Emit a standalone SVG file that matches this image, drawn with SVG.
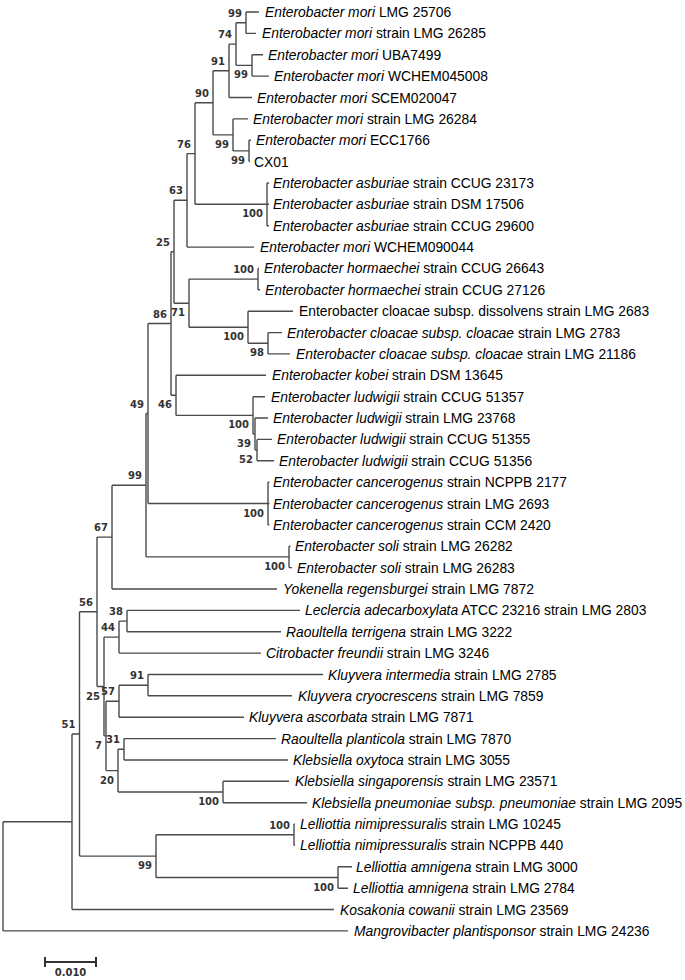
<svg xmlns="http://www.w3.org/2000/svg" width="685" height="980" viewBox="0 0 685 980">
<style>
.br{fill:none;stroke:#4a4a4a;stroke-width:1.4}
.lf{font-family:"Liberation Sans",Arial,sans-serif;font-size:13.85px;fill:#000}
.it{font-style:italic}
.bs{font-family:"DejaVu Sans",Verdana,sans-serif;font-weight:bold;font-size:10px;fill:#333;text-anchor:end}
</style>
<rect width="685" height="980" fill="#fff"/>
<g id="connectors" class="br">
<path d="M246 12V33.4M246 12H259M246 33.4H256"/>
<path d="M252 54.7V76.1M252 54.7H263M252 76.1H269"/>
<path d="M236 22.7V65.4M236 22.7H246M236 65.4H252"/>
<path d="M229 44.1V97.5M229 44.1H236M229 97.5H252"/>
<path d="M249 140.2V161.6M249 140.2H251M249 161.6H250"/>
<path d="M233 118.9V150.9M233 118.9H248M233 150.9H249"/>
<path d="M213 70.8V134.9M213 70.8H229M213 134.9H233"/>
<path d="M267 183V225.7M267 183H269M267 204.3H269M267 225.7H269"/>
<path d="M195 102.8V204.3M195 102.8H213M195 204.3H267"/>
<path d="M187 153.6V247.1M187 153.6H195M187 247.1H254"/>
<path d="M258 268.4V289.8M258 268.4H259M258 289.8H260"/>
<path d="M268 332.6V353.9M268 332.6H282M268 353.9H290"/>
<path d="M248 311.2V343.2M248 311.2H293M248 343.2H268"/>
<path d="M189 279.1V327.2M189 279.1H258M189 327.2H248"/>
<path d="M174 200.3V303.2M174 200.3H187M174 303.2H189"/>
<path d="M257 439.4V460.8M257 439.4H272M257 460.8H274"/>
<path d="M255 418V450.1M255 418H268M255 450.1H257"/>
<path d="M253 396.7V434.1M253 396.7H265M253 434.1H255"/>
<path d="M176 375.3V415.4M176 375.3H266M176 415.4H253"/>
<path d="M171 251.7V395.3M171 251.7H174M171 395.3H176"/>
<path d="M268 482.1V524.9M268 482.1H269.5M268 503.5H269.5M268 524.9H269.5"/>
<path d="M148 323.5V503.5M148 323.5H171M148 503.5H268"/>
<path d="M289 546.3V567.6M289 546.3H290.5M289 567.6H292"/>
<path d="M146 413.5V556.9M146 413.5H148M146 556.9H289"/>
<path d="M112 485.2V589M112 485.2H146M112 589H277"/>
<path d="M127 610.4V631.7M127 610.4H300M127 631.7H281"/>
<path d="M119 621.1V653.1M119 621.1H127M119 653.1H261"/>
<path d="M148 674.5V695.8M148 674.5H323M148 695.8H292"/>
<path d="M119 685.2V717.2M119 685.2H148M119 717.2H244"/>
<path d="M124 738.6V760M124 738.6H276M124 760H288"/>
<path d="M223 781.3V802.7M223 781.3H289M223 802.7H307"/>
<path d="M118 749.3V792M118 749.3H124M118 792H223"/>
<path d="M106 701.2V770.6M106 701.2H119M106 770.6H118"/>
<path d="M104 637.1V735.9M104 637.1H119M104 735.9H106"/>
<path d="M97 537.1V686.5M97 537.1H112M97 686.5H104"/>
<path d="M294 824.1V845.4M294 824.1H295M294 845.4H295"/>
<path d="M338 866.8V888.2M338 866.8H352M338 888.2H348"/>
<path d="M156 834.7V877.5M156 834.7H294M156 877.5H338"/>
<path d="M79.5 611.8V856.1M79.5 611.8H97M79.5 856.1H156"/>
<path d="M72 734V909.5M72 734H79.5M72 909.5H334"/>
<path d="M3 821.8V930.9M3 821.8H72M3 930.9H348"/>
</g>
<g id="leaves" class="lf">
<g id="leaf-1"><text x="265" y="17"><tspan class="it">Enterobacter mori</tspan> LMG 25706</text></g>
<g id="leaf-2"><text x="262" y="38.4"><tspan class="it">Enterobacter mori</tspan> strain LMG 26285</text></g>
<g id="leaf-3"><text x="268" y="59.7"><tspan class="it">Enterobacter mori</tspan> UBA7499</text></g>
<g id="leaf-4"><text x="274" y="81.1"><tspan class="it">Enterobacter mori</tspan> WCHEM045008</text></g>
<g id="leaf-5"><text x="257" y="102.5"><tspan class="it">Enterobacter mori</tspan> SCEM020047</text></g>
<g id="leaf-6"><text x="253" y="123.9"><tspan class="it">Enterobacter mori</tspan> strain LMG 26284</text></g>
<g id="leaf-7"><text x="256" y="145.2"><tspan class="it">Enterobacter mori</tspan> ECC1766</text></g>
<g id="leaf-8"><text x="254" y="166.6">CX01</text></g>
<g id="leaf-9"><text x="273" y="188"><tspan class="it">Enterobacter asburiae</tspan> strain CCUG 23173</text></g>
<g id="leaf-10"><text x="273" y="209.3"><tspan class="it">Enterobacter asburiae</tspan> strain DSM 17506</text></g>
<g id="leaf-11"><text x="273" y="230.7"><tspan class="it">Enterobacter asburiae</tspan> strain CCUG 29600</text></g>
<g id="leaf-12"><text x="260" y="252.1"><tspan class="it">Enterobacter mori</tspan> WCHEM090044</text></g>
<g id="leaf-13"><text x="264" y="273.4"><tspan class="it">Enterobacter hormaechei</tspan> strain CCUG 26643</text></g>
<g id="leaf-14"><text x="265" y="294.8"><tspan class="it">Enterobacter hormaechei</tspan> strain CCUG 27126</text></g>
<g id="leaf-15"><text x="299" y="316.2">Enterobacter cloacae subsp. dissolvens strain LMG 2683</text></g>
<g id="leaf-16"><text x="287" y="337.6"><tspan class="it">Enterobacter cloacae subsp. cloacae</tspan> strain LMG 2783</text></g>
<g id="leaf-17"><text x="296" y="358.9"><tspan class="it">Enterobacter cloacae subsp. cloacae</tspan> strain LMG 21186</text></g>
<g id="leaf-18"><text x="272" y="380.3"><tspan class="it">Enterobacter kobei</tspan> strain DSM 13645</text></g>
<g id="leaf-19"><text x="271" y="401.7"><tspan class="it">Enterobacter ludwigii</tspan> strain CCUG 51357</text></g>
<g id="leaf-20"><text x="273" y="423"><tspan class="it">Enterobacter ludwigii</tspan> strain LMG 23768</text></g>
<g id="leaf-21"><text x="277" y="444.4"><tspan class="it">Enterobacter ludwigii</tspan> strain CCUG 51355</text></g>
<g id="leaf-22"><text x="279" y="465.8"><tspan class="it">Enterobacter ludwigii</tspan> strain CCUG 51356</text></g>
<g id="leaf-23"><text x="273" y="487.1"><tspan class="it">Enterobacter cancerogenus</tspan> strain NCPPB 2177</text></g>
<g id="leaf-24"><text x="273" y="508.5"><tspan class="it">Enterobacter cancerogenus</tspan> strain LMG 2693</text></g>
<g id="leaf-25"><text x="273" y="529.9"><tspan class="it">Enterobacter cancerogenus</tspan> strain CCM 2420</text></g>
<g id="leaf-26"><text x="295" y="551.3"><tspan class="it">Enterobacter soli</tspan> strain LMG 26282</text></g>
<g id="leaf-27"><text x="297" y="572.6"><tspan class="it">Enterobacter soli</tspan> strain LMG 26283</text></g>
<g id="leaf-28"><text x="283" y="594"><tspan class="it">Yokenella regensburgei</tspan> strain LMG 7872</text></g>
<g id="leaf-29"><text x="305" y="615.4"><tspan class="it">Leclercia adecarboxylata</tspan> ATCC 23216 strain LMG 2803</text></g>
<g id="leaf-30"><text x="286" y="636.7"><tspan class="it">Raoultella terrigena</tspan> strain LMG 3222</text></g>
<g id="leaf-31"><text x="266" y="658.1"><tspan class="it">Citrobacter freundii</tspan> strain LMG 3246</text></g>
<g id="leaf-32"><text x="328" y="679.5"><tspan class="it">Kluyvera intermedia</tspan> strain LMG 2785</text></g>
<g id="leaf-33"><text x="298" y="700.8"><tspan class="it">Kluyvera cryocrescens</tspan> strain LMG 7859</text></g>
<g id="leaf-34"><text x="249" y="722.2"><tspan class="it">Kluyvera ascorbata</tspan> strain LMG 7871</text></g>
<g id="leaf-35"><text x="281" y="743.6"><tspan class="it">Raoultella planticola</tspan> strain LMG 7870</text></g>
<g id="leaf-36"><text x="293" y="765"><tspan class="it">Klebsiella oxytoca</tspan> strain LMG 3055</text></g>
<g id="leaf-37"><text x="295" y="786.3"><tspan class="it">Klebsiella singaporensis</tspan> strain LMG 23571</text></g>
<g id="leaf-38"><text x="312" y="807.7"><tspan class="it">Klebsiella pneumoniae subsp. pneumoniae</tspan> strain LMG 2095</text></g>
<g id="leaf-39"><text x="300" y="829.1"><tspan class="it">Lelliottia nimipressuralis</tspan> strain LMG 10245</text></g>
<g id="leaf-40"><text x="300" y="850.4"><tspan class="it">Lelliottia nimipressuralis</tspan> strain NCPPB 440</text></g>
<g id="leaf-41"><text x="356" y="871.8"><tspan class="it">Lelliottia amnigena</tspan> strain LMG 3000</text></g>
<g id="leaf-42"><text x="353" y="893.2"><tspan class="it">Lelliottia amnigena</tspan> strain LMG 2784</text></g>
<g id="leaf-43"><text x="340" y="914.5"><tspan class="it">Kosakonia cowanii</tspan> strain LMG 23569</text></g>
<g id="leaf-44"><text x="354" y="935.9"><tspan class="it">Mangrovibacter plantisponsor</tspan> strain LMG 24236</text></g>
</g>
<g id="bootstrap" class="bs">
<g id="node-a"><text x="242" y="16.7">99</text></g>
<g id="node-b"><text x="248" y="78.4">99</text></g>
<g id="node-74"><text x="232" y="38">74</text></g>
<g id="node-91a"><text x="225" y="64.8">91</text></g>
<g id="node-90"><text x="209" y="96.8">90</text></g>
<g id="node-99b"><text x="229" y="147.9">99</text></g>
<g id="node-cx"><text x="245" y="163.9">99</text></g>
<g id="node-76"><text x="191" y="147.6">76</text></g>
<g id="node-asb"><text x="263" y="217.3">100</text></g>
<g id="node-63"><text x="183" y="194.3">63</text></g>
<g id="node-25a"><text x="170" y="245.7">25</text></g>
<g id="node-horm"><text x="254" y="273.1">100</text></g>
<g id="node-71"><text x="185" y="316.2">71</text></g>
<g id="node-clo"><text x="244" y="340.2">100</text></g>
<g id="node-98"><text x="264" y="356.2">98</text></g>
<g id="node-86"><text x="167" y="317.5">86</text></g>
<g id="node-46"><text x="172" y="408.3">46</text></g>
<g id="node-lud"><text x="249" y="428.4">100</text></g>
<g id="node-39"><text x="251" y="447.1">39</text></g>
<g id="node-52"><text x="253" y="463.1">52</text></g>
<g id="node-49"><text x="144" y="407.5">49</text></g>
<g id="node-canc"><text x="264" y="516.5">100</text></g>
<g id="node-soli"><text x="285" y="569.9">100</text></g>
<g id="node-99y"><text x="142" y="479.2">99</text></g>
<g id="node-67"><text x="108" y="531.1">67</text></g>
<g id="node-56"><text x="93" y="605.8">56</text></g>
<g id="node-38"><text x="123" y="615">38</text></g>
<g id="node-44"><text x="115" y="631.1">44</text></g>
<g id="node-25b"><text x="100" y="699.5">25</text></g>
<g id="node-91b"><text x="144" y="679.2">91</text></g>
<g id="node-57"><text x="115" y="695.2">57</text></g>
<g id="node-7"><text x="102" y="748.9">7</text></g>
<g id="node-31"><text x="120" y="743.3">31</text></g>
<g id="node-20"><text x="114" y="783.6">20</text></g>
<g id="node-kleb"><text x="219" y="805">100</text></g>
<g id="node-51"><text x="75.5" y="728">51</text></g>
<g id="node-99l"><text x="152" y="869.1">99</text></g>
<g id="node-nimi"><text x="290" y="828.7">100</text></g>
<g id="node-amn"><text x="334" y="890.5">100</text></g>
</g>
<g id="scale-bar">
<path d="M45 962H96M45 957V967M96 957V967" fill="none" stroke="#333" stroke-width="2"/>
<text x="70.5" y="975.5" font-family="DejaVu Sans,Verdana,sans-serif" font-weight="bold" font-size="10" fill="#333" text-anchor="middle">0.010</text>
</g>
</svg>
